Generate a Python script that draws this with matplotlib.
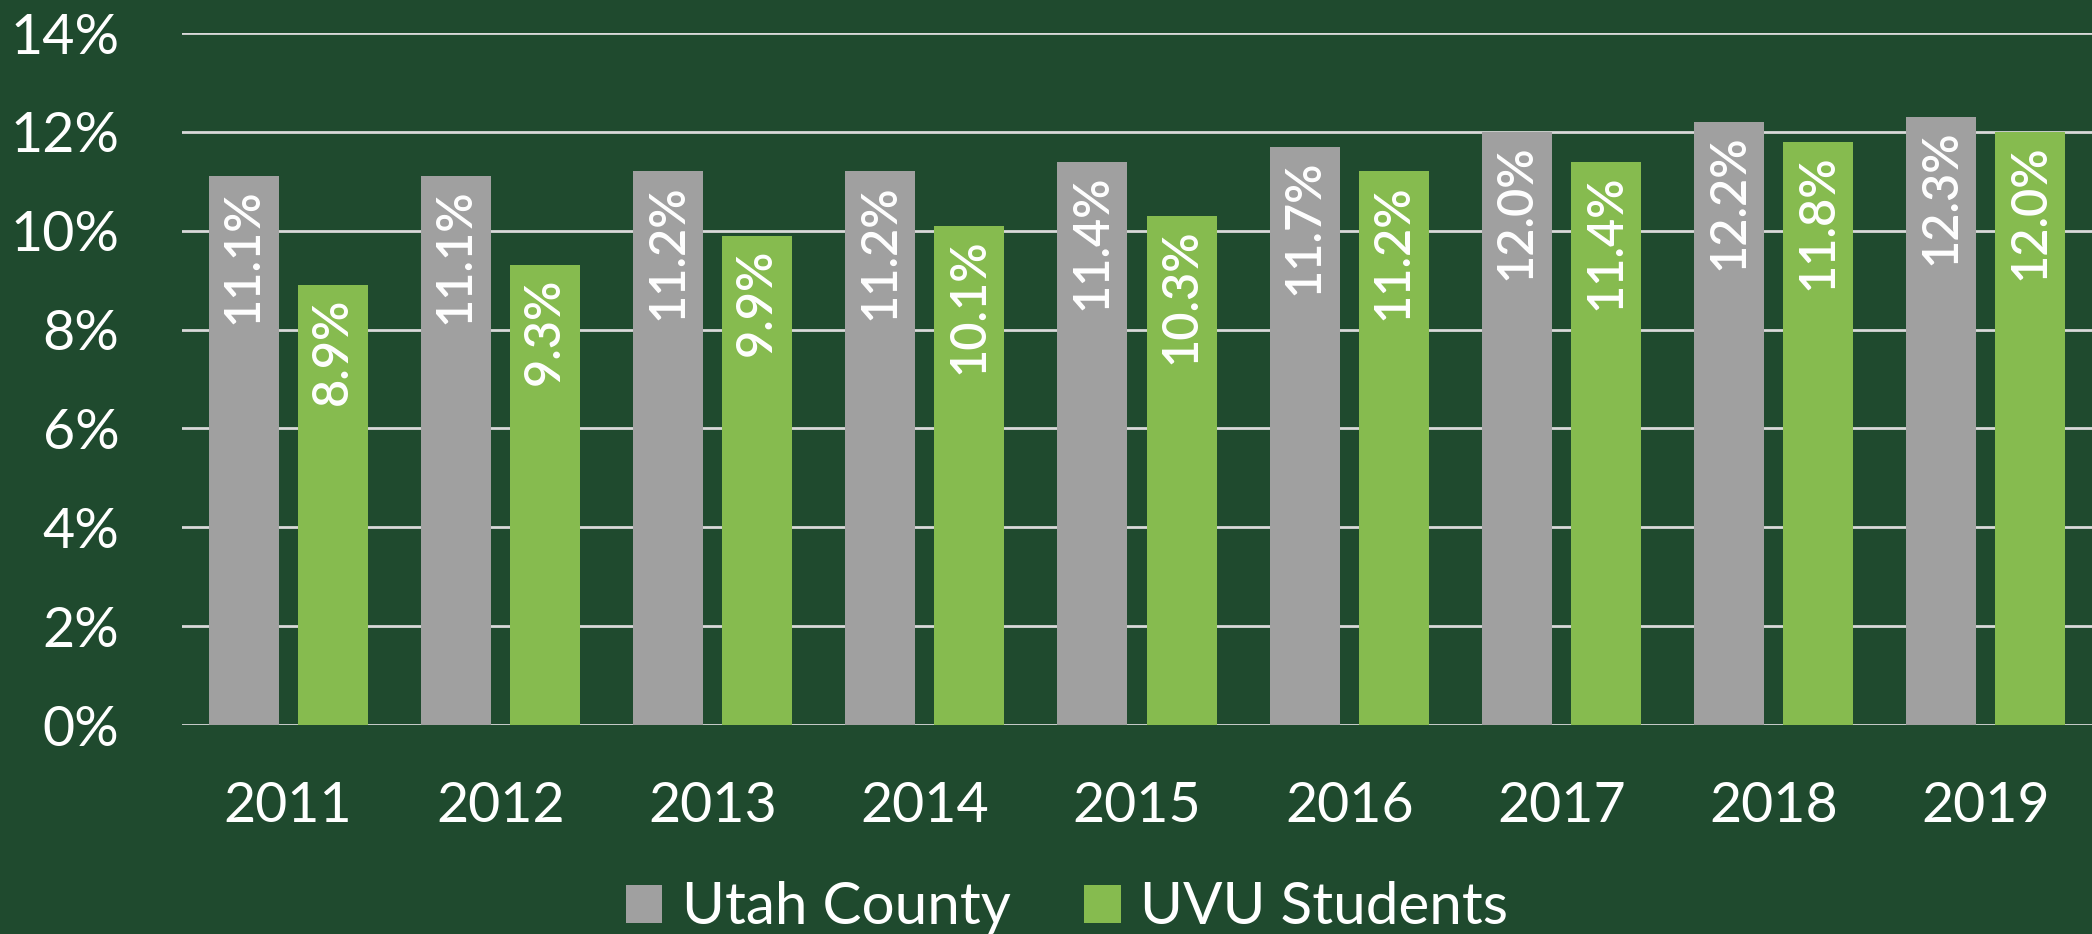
import matplotlib
matplotlib.use("Agg")
import matplotlib.pyplot as plt
import numpy as np
from matplotlib.ticker import FuncFormatter

years = ["2011", "2012", "2013", "2014", "2015", "2016", "2017", "2018", "2019"]
utah_county = [11.1, 11.1, 11.2, 11.2, 11.4, 11.7, 12.0, 12.2, 12.3]
uvu_students = [8.9, 9.3, 9.9, 10.1, 10.3, 11.2, 11.4, 11.8, 12.0]
series_names = ["Utah County", "UVU Students"]

BG = "#1F4A2E"
GREY = "#A0A0A0"
GREEN = "#86BB4F"
GRID = "#D9D9D9"

plt.rcParams['font.family'] = ['Lato', 'DejaVu Sans']

fig = plt.figure(figsize=(20.92, 9.34), dpi=100, facecolor=BG)
ax = fig.add_axes([182/2092, 1-725/934, (2092-182)/2092, (725-33)/934])
ax.set_facecolor(BG)

x = np.arange(len(years))
w = 0.33
off = 0.21
b1 = ax.bar(x - off, utah_county, w, color=GREY, label=series_names[0], zorder=3)
b2 = ax.bar(x + off, uvu_students, w, color=GREEN, label=series_names[1], zorder=3)

for bars, vals in ((b1, utah_county), (b2, uvu_students)):
    for r, v in zip(bars, vals):
        ax.annotate(f"{v:.1f}%", (r.get_x() + r.get_width()/2, r.get_height()),
                    xytext=(0, -9), textcoords="offset points",
                    rotation=90, ha="center", va="top", color="white",
                    fontsize=35, fontweight="semibold", zorder=4)

ax.set_xlim(-0.5, len(years) - 0.5)
ax.set_ylim(0, 14)
ax.set_yticks(np.arange(0, 15, 2))
ax.yaxis.set_major_formatter(FuncFormatter(lambda v, p: f"{v:.0f}%"))
ax.set_xticks(x)
ax.set_xticklabels(years)
ax.grid(axis="y", color=GRID, linewidth=2, zorder=0)
for s in ax.spines.values():
    s.set_visible(False)
ax.tick_params(axis="both", length=0, colors="white", labelsize=40)
ax.tick_params(axis="y", pad=45)
ax.tick_params(axis="x", pad=40)

leg = fig.legend(loc="center", bbox_to_anchor=(1067/2092, 1-908/934), ncol=2, frameon=False,
                 fontsize=42, handlelength=0.62, handleheight=0.62, handletextpad=0.34,
                 columnspacing=1.27, borderaxespad=0, borderpad=0)
for t in leg.get_texts():
    t.set_color("white")

fig.savefig("out.png", dpi=100, facecolor=BG)
